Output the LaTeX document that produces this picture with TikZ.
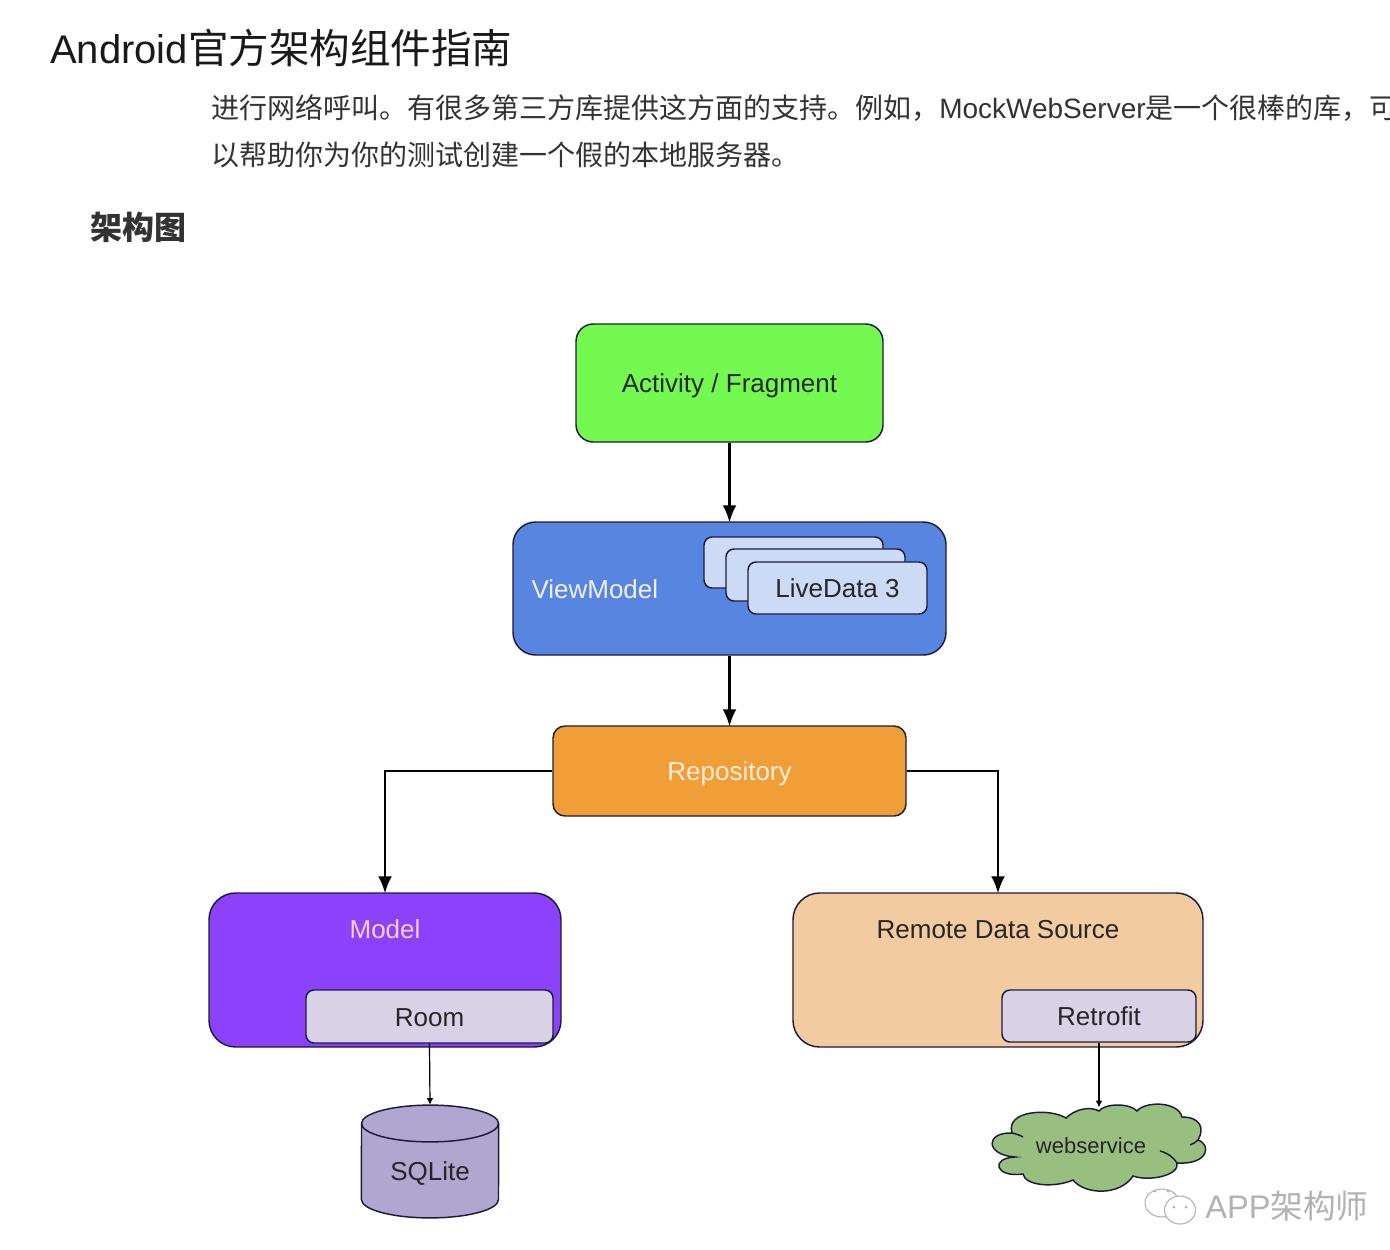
\documentclass[tikz,border=0pt]{standalone}
\usepackage{fontspec}
\usepackage{xcolor}
\usetikzlibrary{shapes,arrows.meta,positioning,calc}
\setmainfont{Liberation Sans}
\newfontfamily\cjkfont{Noto Sans CJK SC}
\definecolor{activitygreen}{HTML}{73F94F}
\definecolor{viewblue}{HTML}{5885E0}
\definecolor{liveblue}{HTML}{CDDAF5}
\definecolor{repoorange}{HTML}{F09E38}
\definecolor{modelpurple}{HTML}{8C42FA}
\definecolor{roomlilac}{HTML}{D9D2E7}
\definecolor{remotetan}{HTML}{F3CBA0}
\definecolor{sqlitelilac}{HTML}{AFA7D0}
\definecolor{cloudgreen}{HTML}{98BE80}
\definecolor{edgedark}{HTML}{1C1C3A}
\definecolor{pagetext}{HTML}{333333}
\tikzset{
    boxnode/.style={draw=edgedark, line width=1.1pt, rectangle, inner sep=0pt, text=black!85, font=\fontsize{19.5}{23}\selectfont, text height=18.5pt, text depth=4pt},
    boxlabel/.style={inner sep=0pt, text=black!85, font=\fontsize{19.5}{23}\selectfont, text height=18.5pt, text depth=4pt},
    outline/.style={draw=edgedark, line width=1.1pt},
    headtext/.style={anchor=base west, inner sep=0pt, text=pagetext},
    bigarrow/.style={-{Latex[length=13pt,width=10.5pt]}, line width=2.2pt, shorten >=-1pt},
    smallarrow/.style={-{Latex[length=5pt,width=5pt]}, line width=0.9pt}
}

\begin{document}
\begin{tikzpicture}[x=0.75pt,y=-0.75pt]
    \clip (0,0) rectangle (1390,1250);
    \fill[white] (0,0) rectangle (1390,1250);

    \node (title) [headtext, text=black!90, font=\fontsize{30}{36}\selectfont] at (50,63) {Android{\fontsize{30.4}{36}\selectfont\cjkfont 官方架构组件指南}};
    \node (lineone) [headtext, font=\fontsize{21}{25}\selectfont] at (211,118) {{\cjkfont 进行网络呼叫。有很多第三方库提供这方面的支持。例如，}MockWebServer{\cjkfont 是一个很棒的库，可}};
    \node (linetwo) [headtext, font=\fontsize{21}{25}\selectfont] at (211,165) {\cjkfont 以帮助你为你的测试创建一个假的本地服务器。};
    \node (section) [headtext, font=\fontsize{24}{29}\selectfont] at (90,239) {\cjkfont\bfseries 架构图};

    \node (activity) [boxnode, fill=activitygreen, rounded corners=13pt, minimum width=230.25pt, minimum height=88.5pt] at (729.5,383) {Activity / Fragment};
    \node (viewmodel) [boxnode, fill=viewblue, rounded corners=17pt, minimum width=324.75pt, minimum height=99.75pt, text=blue!6, align=left, text width=297pt] at (729.5,588.5) {ViewModel};
    \node (livedataone) [boxnode, fill=liveblue, rounded corners=6pt, minimum width=134.25pt, minimum height=38.25pt] at (793.5,562.5) {};
    \node (livedatatwo) [boxnode, fill=liveblue, rounded corners=6pt, minimum width=134.25pt, minimum height=39pt] at (815.5,575) {};
    \node (livedatathree) [boxnode, fill=liveblue, rounded corners=6pt, minimum width=134.25pt, minimum height=39pt] at (837.5,588) {LiveData 3};
    \node (repository) [boxnode, fill=repoorange, rounded corners=9pt, minimum width=264.75pt, minimum height=67.5pt, text=orange!15] at (729.5,771) {Repository};
    \node (model) [boxnode, fill=modelpurple, rounded corners=20pt, minimum width=264pt, minimum height=115.5pt] at (385,970) {};
    \node (modeltext) [boxlabel, text=magenta!20] at (385,929) {Model};
    \node (room) [boxnode, fill=roomlilac, rounded corners=6pt, minimum width=185.25pt, minimum height=39.75pt] at (429.5,1016.5) {Room};
    \node (remote) [boxnode, fill=remotetan, rounded corners=20pt, minimum width=307.5pt, minimum height=115.5pt] at (998,970) {};
    \node (remotetext) [boxlabel] at (998,929) {Remote Data Source};
    \node (retrofit) [boxnode, fill=roomlilac, rounded corners=6pt, minimum width=145.5pt, minimum height=39pt] at (1099,1016) {Retrofit};

    \node (sqlite) [rectangle, inner sep=0pt, minimum width=103.5pt, minimum height=84.75pt] at (430,1161.5) {};
    \draw [outline, fill=sqlitelilac] (361.5,1123.5) arc[start angle=180, end angle=0, x radius=51.4pt, y radius=13.8pt] -- (498.5,1199.5) arc[start angle=0, end angle=-180, x radius=51.4pt, y radius=13.8pt] -- cycle;
    \draw [outline] (361.5,1123.5) arc[start angle=180, end angle=360, x radius=51.4pt, y radius=13.8pt];
    \node (sqlitetext) [boxlabel] at (430,1171) {SQLite};

    \node (webservice) [rectangle, inner sep=0pt, minimum width=160.5pt, minimum height=62pt] at (1099,1149) {};
    \draw [outline, fill=cloudgreen] (1012,1133)
        .. controls (1005,1110) and (1050,1108) .. (1066,1118)
        .. controls (1075,1109) and (1090,1106) .. (1099,1111)
        .. controls (1105,1103) and (1130,1103) .. (1137,1111)
        .. controls (1145,1101) and (1178,1101) .. (1182,1117)
        .. controls (1200,1117) and (1205,1128) .. (1198,1140)
        .. controls (1212,1145) and (1208,1165) .. (1177,1163)
        .. controls (1180,1175) and (1150,1182) .. (1133,1176)
        .. controls (1120,1196) and (1085,1195) .. (1073,1180)
        .. controls (1055,1188) and (1025,1186) .. (1023,1174)
        .. controls (995,1178) and (990,1158) .. (1015,1157)
        .. controls (985,1155) and (985,1132) .. (1012,1133) -- cycle;
    \draw [outline] (1160,1151) .. controls (1168,1153) and (1174,1158) .. (1177,1163);
    \draw [outline] (1012,1133) .. controls (1016,1134) and (1020,1135) .. (1023,1137);
    \draw [outline] (1198,1140) .. controls (1196,1142) and (1193,1144) .. (1190,1145);
    \node (webtext) [inner sep=0pt, text=black!85, font=\fontsize{16.5}{20}\selectfont] at (1091,1146) {webservice};

    \draw [bigarrow] (activity) -- (viewmodel);
    \draw [bigarrow] (viewmodel) -- (repository);
    \draw [bigarrow] (repository.west) -| (model.north);
    \draw [bigarrow] (repository.east) -| (remote.north);
    \draw [smallarrow] (room.south) -- (sqlite.north);
    \draw [smallarrow] (retrofit.south) -- (webservice.north);

    \draw [gray!60, fill=white, line width=0.8pt] (1162,1203) ellipse (17 and 14);
    \fill [gray!60] (1155,1191) circle (1.5) (1168,1191) circle (1.5);
    \draw [gray!60, fill=white, line width=0.8pt] (1180,1210) ellipse (15.5 and 14);
    \fill [gray!60] (1174,1207) circle (1.5) (1186,1207) circle (1.5);
    \node (watermark) [anchor=base west, inner sep=0pt, text=black!30, font=\fontsize{24.5}{30}\selectfont] at (1205,1218) {APP{\cjkfont 架构师}};
\end{tikzpicture}
\end{document}
